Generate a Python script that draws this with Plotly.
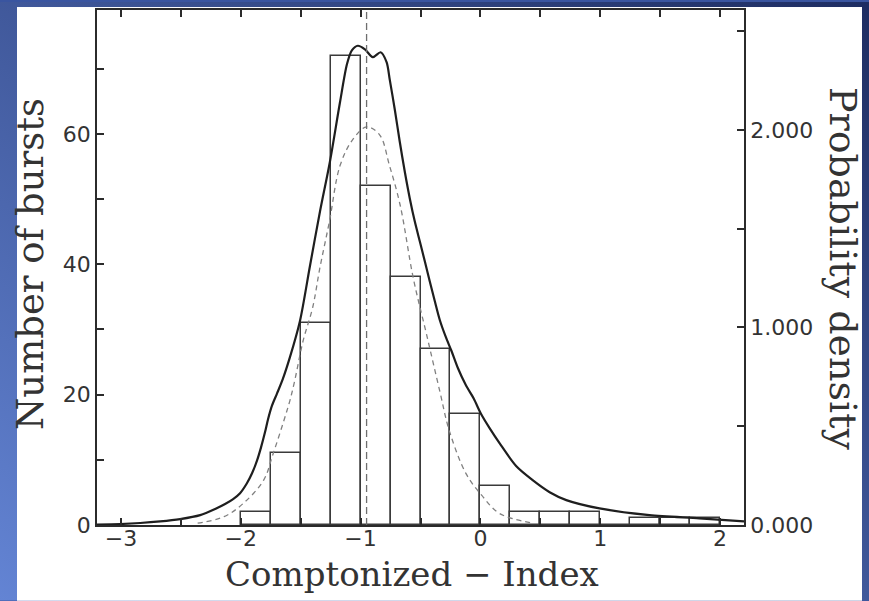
import base64
import plotly.graph_objects as go

# Histogram of the Comptonized index (bin width 0.25)
bin_left = [-2.0, -1.75, -1.5, -1.25, -1.0, -0.75, -0.5, -0.25, 0.0,
            0.25, 0.5, 0.75, 1.0, 1.25, 1.5, 1.75]
counts = [2, 11, 31, 72, 52, 38, 27, 17, 6, 2, 2, 2, 0, 1, 1, 1]
bin_width = 0.25

# Kernel density estimate (right axis, probability density)
kde_x = [-3.2, -3.006, -2.839, -2.673, -2.506, -2.339, -2.214, -2.131, -2.064,
         -2.006, -1.95, -1.906, -1.864, -1.831, -1.798, -1.773, -1.739, -1.698,
         -1.648, -1.589, -1.506, -1.423, -1.339, -1.256, -1.173, -1.114, -1.073,
         -1.023, -0.964, -0.898, -0.833, -0.783, -0.756, -0.714, -0.673, -0.631,
         -0.589, -0.548, -0.506, -0.464, -0.423, -0.381, -0.339, -0.289, -0.242,
         -0.189, -0.123, -0.056, 0.008, 0.078, 0.161, 0.30, 0.436, 0.578, 0.717,
         0.994, 1.411, 1.828, 2.2]
kde_y = [0.0025, 0.005, 0.010, 0.018, 0.030, 0.050, 0.081, 0.106, 0.131,
         0.161, 0.210, 0.262, 0.327, 0.393, 0.469, 0.534, 0.605, 0.665,
         0.741, 0.851, 1.033, 1.310, 1.587, 1.839, 2.136, 2.332, 2.403,
         2.426, 2.408, 2.368, 2.393, 2.343, 2.252, 2.101, 1.940, 1.788,
         1.652, 1.537, 1.436, 1.335, 1.234, 1.134, 1.038, 0.952, 0.882,
         0.796, 0.710, 0.640, 0.559, 0.489, 0.413, 0.297, 0.227, 0.166, 0.126,
         0.084, 0.050, 0.034, 0.018]

# Gaussian fit (right axis)
fit_x = [-2.36, -2.14, -1.98, -1.81, -1.73, -1.64, -1.59, -1.55, -1.48, -1.40,
         -1.34, -1.26, -1.17, -1.06, -0.95, -0.84, -0.76, -0.67, -0.56, -0.45,
         -0.34, -0.26, -0.12, 0.01, 0.16, 0.44]
fit_y = [0.009, 0.042, 0.109, 0.226, 0.361, 0.529, 0.630, 0.730, 0.932, 1.101,
         1.301, 1.537, 1.822, 1.956, 2.015, 1.974, 1.822, 1.620, 1.249, 0.966,
         0.680, 0.478, 0.260, 0.151, 0.058, 0.009]
fit_mean = -0.95

x_ticks = [-3, -2.5, -2, -1.5, -1, -0.5, 0, 0.5, 1, 1.5, 2]
x_labels = ["−3", "", "−2", "", "−1", "", "0", "", "1", "", "2"]
y_ticks = [0, 10, 20, 30, 40, 50, 60, 70]
y_labels = ["0", "", "20", "", "40", "", "60", ""]
y2_ticks = [0, 0.5, 1.0, 1.5, 2.0, 2.5]
y2_labels = ["0.000", "", "1.000", "", "2.000", ""]

INK = "#2b2b2b"
W, H = 869, 601
ML, MR, MT, MB = 97, 125, 8, 76
PW, PH = W - ML - MR, H - MT - MB

# Blue gradient page with a white panel, drawn as an inline SVG
svg = f"""<svg xmlns='http://www.w3.org/2000/svg' width='{W}' height='{H}'>
<defs><linearGradient id='g' x1='0' y1='1' x2='1' y2='0'>
<stop offset='0' stop-color='#6384d4'/><stop offset='1' stop-color='#1e2d62'/>
</linearGradient></defs>
<rect width='{W}' height='{H}' fill='url(#g)'/>
<rect x='17' y='5' width='845' height='{H}' fill='#ffffff'/>
</svg>"""
bg_src = "data:image/svg+xml;base64," + base64.b64encode(svg.encode()).decode()

centers = [b + bin_width / 2 for b in bin_left]

fig = go.Figure()
fig.add_trace(go.Bar(
    x=centers, y=counts, width=bin_width,
    marker=dict(color="white", line=dict(color="#3a3a3a", width=1.5)),
    showlegend=False, hoverinfo="skip",
))
fig.add_trace(go.Scatter(
    x=fit_x, y=fit_y, yaxis="y2", mode="lines", line_shape="spline",
    line=dict(color="#808080", width=1.3, dash="5px,4px"),
    showlegend=False, hoverinfo="skip",
))
fig.add_trace(go.Scatter(
    x=kde_x, y=kde_y, yaxis="y2", mode="lines",
    line=dict(color="#1e1e1e", width=2.2, shape="spline", smoothing=0.8),
    showlegend=False, hoverinfo="skip",
))

fig.add_shape(type="line", xref="x", yref="paper", x0=fit_mean, x1=fit_mean,
              y0=0, y1=1, line=dict(color="#6e6e6e", width=1.3, dash="7px,4px"))

tick_font = dict(family="DejaVu Sans, sans-serif", size=22, color="#333333")
serif = "DejaVu Serif, serif"


def py(y_px):
    return (H - MB - y_px) / PH


def px(x_px):
    return (x_px - ML) / PW


fig.update_layout(
    width=W, height=H,
    margin=dict(l=ML, r=MR, t=MT, b=MB),
    paper_bgcolor="#3a55a0", plot_bgcolor="white",
    bargap=0,
    images=[dict(source=bg_src, xref="paper", yref="paper",
                 x=-ML / PW, y=1 + MT / PH, sizex=W / PW, sizey=H / PH,
                 xanchor="left", yanchor="top", sizing="stretch", layer="below")],
    xaxis=dict(range=[-3.2, 2.2], tickvals=x_ticks, ticktext=x_labels,
               ticks="inside", ticklen=7, tickwidth=1.5, tickcolor=INK,
               showline=True, linecolor=INK, linewidth=1.5, mirror="ticks",
               showgrid=False, zeroline=False, tickfont=tick_font,
               ticklabelstandoff=-7),
    yaxis=dict(range=[0, 79], tickvals=y_ticks, ticktext=y_labels,
               ticks="inside", ticklen=7, tickwidth=1.5, tickcolor=INK,
               showline=True, linecolor=INK, linewidth=1.5,
               showgrid=False, zeroline=False, tickfont=tick_font),
    yaxis2=dict(range=[0, 2.607], tickvals=y2_ticks, ticktext=y2_labels,
                overlaying="y", side="right",
                ticks="inside", ticklen=7, tickwidth=1.5, tickcolor=INK,
                showline=True, linecolor=INK, linewidth=1.5,
                showgrid=False, zeroline=False, tickfont=tick_font),
    annotations=[
        dict(text="Comptonized − Index", xref="paper", yref="paper",
             x=px(412), y=py(574), showarrow=False,
             font=dict(family=serif, size=34, color="#333333"),
             xanchor="center", yanchor="middle"),
        dict(text="Number of bursts", xref="paper", yref="paper",
             x=px(30), y=py(263), textangle=-90, showarrow=False,
             font=dict(family=serif, size=37, color="#333333"),
             xanchor="center", yanchor="middle"),
        dict(text="Probability density", xref="paper", yref="paper",
             x=px(843), y=py(267), textangle=90, showarrow=False,
             font=dict(family=serif, size=38, color="#333333"),
             xanchor="center", yanchor="middle"),
    ],
)

fig.write_html("out.html")
